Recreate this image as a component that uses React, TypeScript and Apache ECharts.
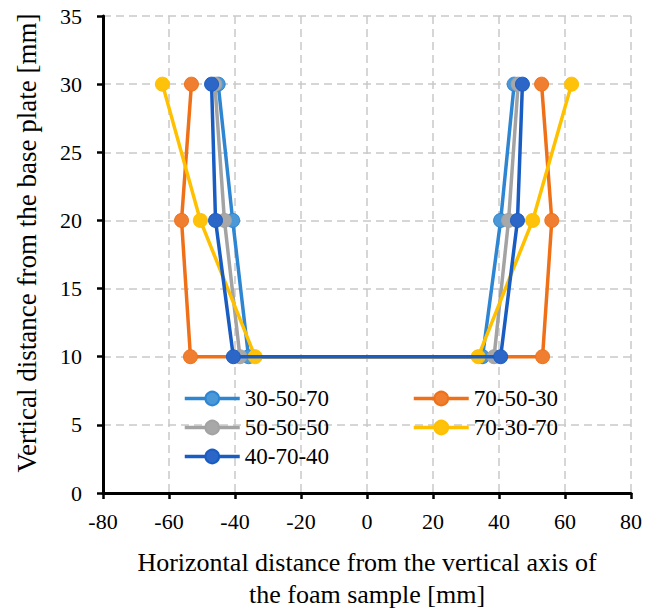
import React, { useEffect, useRef } from "react";
import * as echarts from "echarts";

// y levels traversed: left side top→bottom, then right side bottom→top
const yPath = [30, 20, 10, 10, 20, 30];

const seriesNames = ["30-50-70", "70-50-30", "50-50-50", "70-30-70", "40-70-40"];

const s30_50_70 = [-45.1, -40.7, -35.9, 35.0, 40.5, 44.6];
const s70_50_30 = [-53.2, -56.2, -53.5, 53.2, 56.0, 52.9];
const s50_50_50 = [-46.1, -43.2, -38.5, 38.5, 42.9, 45.8];
const s70_30_70 = [-62.0, -50.5, -33.9, 33.7, 50.2, 62.0];
const s40_70_40 = [-47.1, -45.9, -40.5, 40.5, 45.6, 47.1];

const seriesValues = [s30_50_70, s70_50_30, s50_50_50, s70_30_70, s40_70_40];

const lineColors = ["#2E86D2", "#F07018", "#A3A3A3", "#FFC000", "#1A5DC2"];
const markerColors = ["#4A98D8", "#F07E30", "#A8A8A8", "#FFC20A", "#2C66C6"];

const xTicks = { min: -80, max: 80, interval: 20 };
const yTicks = { min: 0, max: 35, interval: 5 };

const FONT = "Liberation Serif";

export default function App() {
  const ref = useRef<HTMLDivElement>(null);
  useEffect(() => {
    if (!ref.current) return;
    const chart = echarts.init(ref.current, undefined, { renderer: "svg" });
    const series = seriesNames.map((name, i) => ({
      name,
      type: "line",
      data: seriesValues[i].map((x, k) => [x, yPath[k]]),
      symbol: "circle",
      symbolSize: 14,
      showSymbol: true,
      lineStyle: { color: lineColors[i], width: 3.5 },
      itemStyle: { color: markerColors[i], borderColor: lineColors[i], borderWidth: 1 },
      z: 2 + i,
    }));
    const splitLine = {
      show: true,
      lineStyle: { color: "#C9C9C9", width: 1.5, type: [8, 5] },
    };
    const legendCommon = {
      orient: "vertical",
      top: 387,
      padding: 0,
      itemWidth: 55,
      itemHeight: 17,
      itemGap: 6,
      lineStyle: { width: 3.5 },
      textStyle: { fontFamily: FONT, fontSize: 23, color: "#000" },
      selectedMode: false,
    };
    chart.setOption({
      animation: false,
      backgroundColor: "#fff",
      textStyle: { fontFamily: FONT },
      grid: { left: 103, right: 25, top: 16, bottom: 117, outerBoundsMode: "none", containLabel: false },
      legend: [
        { ...legendCommon, left: 183, data: ["30-50-70", "50-50-50", "40-70-40"] },
        { ...legendCommon, left: 412, data: ["70-50-30", "70-30-70"] },
      ],
      xAxis: {
        type: "value",
        min: xTicks.min,
        max: xTicks.max,
        interval: xTicks.interval,
        axisLine: { show: true, onZero: false, lineStyle: { color: "#000", width: 3 } },
        axisTick: { show: true, length: 6, lineStyle: { color: "#000", width: 2.5 } },
        axisLabel: { fontFamily: FONT, fontSize: 22, color: "#000", margin: 17 },
        splitLine,
        name: "Horizontal distance from the vertical axis of\nthe foam sample [mm]",
        nameLocation: "middle",
        nameGap: 53,
        nameTextStyle: { fontFamily: FONT, fontSize: 26, color: "#000", lineHeight: 32 },
      },
      yAxis: {
        type: "value",
        min: yTicks.min,
        max: yTicks.max,
        interval: yTicks.interval,
        axisLine: { show: true, onZero: false, lineStyle: { color: "#000", width: 3 } },
        axisTick: { show: true, length: 6, lineStyle: { color: "#000", width: 2.5 } },
        axisLabel: { fontFamily: FONT, fontSize: 22, color: "#000", margin: 21 },
        splitLine,
      },
      graphic: [
        {
          type: "text",
          x: 27,
          y: 243,
          rotation: Math.PI / 2,
          style: {
            text: "Vertical distance from the base plate [mm]",
            fontFamily: FONT,
            fontSize: 27,
            fill: "#000",
            align: "center",
            verticalAlign: "middle",
          },
        },
      ],
      series,
    });
    return () => chart.dispose();
  }, []);
  return (
    <div
      ref={ref}
      style={{ position: "absolute", left: 0, top: 0, width: 656, height: 610 }}
    />
  );
}
